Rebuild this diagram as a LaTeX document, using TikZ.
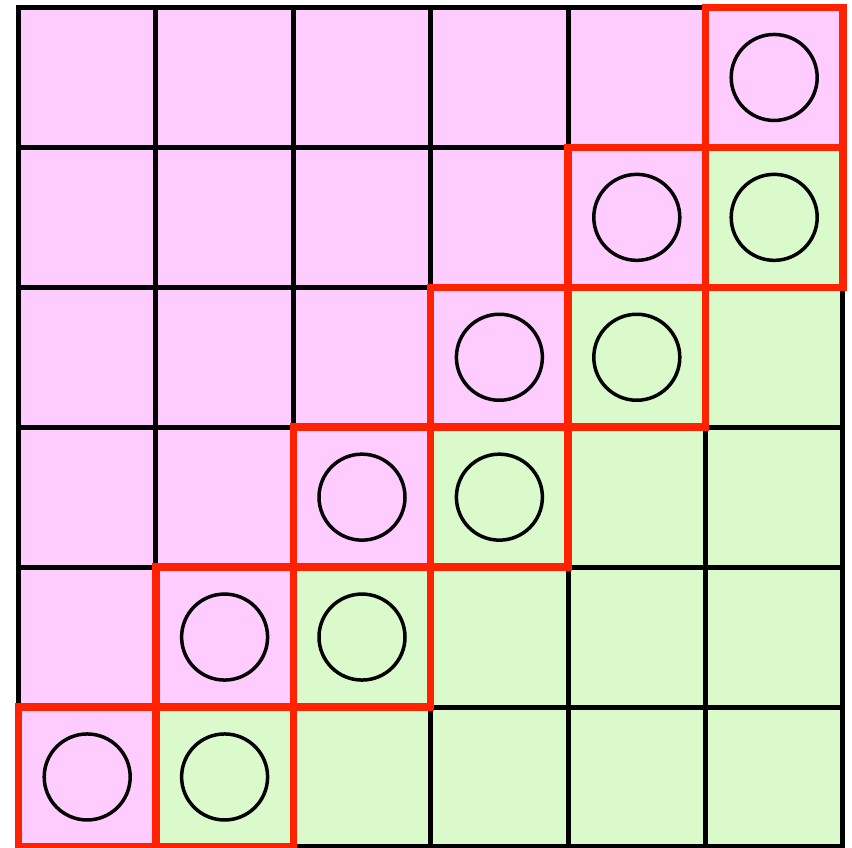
\documentclass[tikz,border=0pt]{standalone}
\definecolor{pinkc}{RGB}{255,204,255}
\definecolor{greenc}{RGB}{218,250,204}
\definecolor{redc}{RGB}{255,34,0}
\tikzset{
  gridline/.style={draw=black,line width=5pt},
  redbox/.style={draw=redc,line width=7.5pt},
  ring/.style={draw=black,line width=3.5pt}
}
\begin{document}
\begin{tikzpicture}[x=1pt,y=-1pt]
\useasboundingbox (0,0) rectangle (852,847);
\fill[white] (0,0) rectangle (852,847);
\foreach \r in {0,...,5}{\foreach \c in {0,...,5}{
  \pgfmathsetmacro{\xa}{18.5+137.4*\c}
  \pgfmathsetmacro{\ya}{7.5+139.9*\r}
  \pgfmathtruncatemacro{\s}{\r+\c}
  \ifnum\s<6 \def\fc{pinkc}\else\def\fc{greenc}\fi
  \fill[\fc] (\xa,\ya) rectangle ++(137.4,139.9);
}}
\foreach \r in {0,...,5}{\foreach \c in {0,...,5}{
  \pgfmathsetmacro{\xa}{18.5+137.4*\c}
  \pgfmathsetmacro{\ya}{7.5+139.9*\r}
  \draw[gridline] (\xa,\ya) rectangle ++(137.4,139.9);
}}
\foreach \r in {0,...,5}{\foreach \c in {0,...,5}{
  \pgfmathsetmacro{\xa}{18.5+137.4*\c}
  \pgfmathsetmacro{\ya}{7.5+139.9*\r}
  \pgfmathtruncatemacro{\s}{\r+\c}
  \ifnum\s=5 \draw[redbox] (\xa,\ya) rectangle ++(137.4,139.9);\fi
  \ifnum\s=6 \draw[redbox] (\xa,\ya) rectangle ++(137.4,139.9);\fi
}}
\foreach \r in {0,...,5}{\foreach \c in {0,...,5}{
  \pgfmathsetmacro{\xc}{18.5+137.4*\c+68.7}
  \pgfmathsetmacro{\yc}{7.5+139.9*\r+69.95}
  \pgfmathtruncatemacro{\s}{\r+\c}
  \ifnum\s=5 \draw[ring] (\xc,\yc) circle[radius=43pt];\fi
  \ifnum\s=6 \draw[ring] (\xc,\yc) circle[radius=43pt];\fi
}}
\end{tikzpicture}
\end{document}
